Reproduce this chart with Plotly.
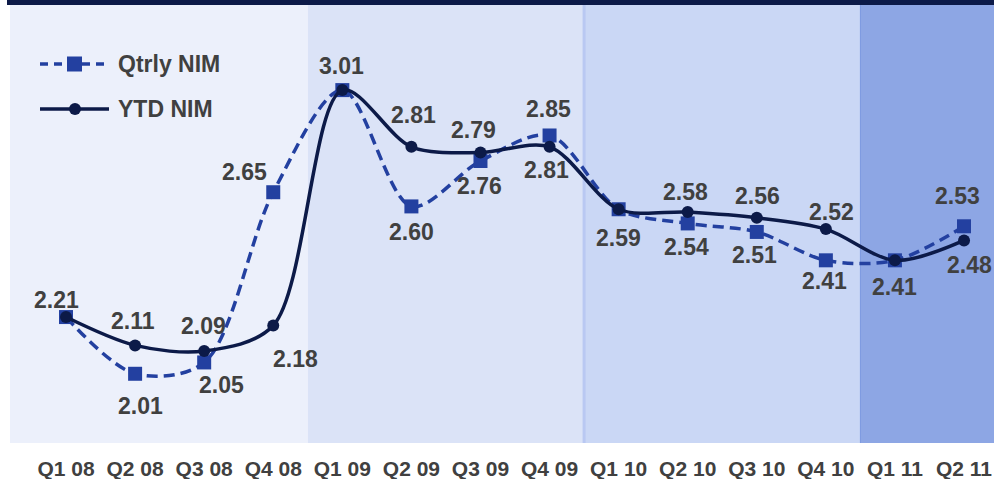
import plotly.graph_objects as go

# Quarterly and year-to-date net interest margin (%)
quarters = ["Q1 08", "Q2 08", "Q3 08", "Q4 08", "Q1 09", "Q2 09", "Q3 09",
            "Q4 09", "Q1 10", "Q2 10", "Q3 10", "Q4 10", "Q1 11", "Q2 11"]
qtrly_nim = [2.21, 2.01, 2.05, 2.65, 3.01, 2.60, 2.76, 2.85, 2.59, 2.54, 2.51, 2.41, 2.41, 2.53]
ytd_nim = [2.21, 2.11, 2.09, 2.18, 3.01, 2.81, 2.79, 2.81, 2.59, 2.58, 2.56, 2.52, 2.41, 2.48]

# Label offsets in px (dx, dy; dy positive = up). None = label shared with the other series.
qtrly_label_offsets = [(-10, 17), (5, -32), (17, -23), (-29, 20), (-1, 24), (0, -26), (-1, -25),
                       (-1, 26), (0, -29), (-1, -24), (-2, -23), (-1, -21), (0, -27), (-7, 30)]
ytd_label_offsets = [None, (-2, 24), (-1, 25), (22, -33), None, (2, 32), (-7, 23),
                     (-3, -23), None, (-2, 20), (1, 22), (6, 17), None, (5, -25)]

# Shaded year bands: (first index, last index, fill colour)
year_bands = [(0, 3, "#ecf0fb"), (4, 7, "#dbe3f7"), (8, 11, "#cad7f5"), (12, 13, "#8da6e4")]

QTRLY_COLOR = "#2340a0"
YTD_COLOR = "#0c1a48"
TEXT_COLOR = "#404040"
FONT = "Liberation Sans"

W, H = 994, 479
ML, MR, MT, MB = 10, 0, 5, 36
X_RANGE = [-0.811, 13.434]
Y_RANGE = [1.766, 3.31]


def px_to_paper(px, py):
    return (px - ML) / (W - ML - MR), (H - MB - py) / (H - MT - MB)


idx = list(range(len(quarters)))
fig = go.Figure()

fig.add_trace(go.Scatter(
    x=idx, y=qtrly_nim, name="Qtrly NIM", mode="lines+markers",
    line=dict(color=QTRLY_COLOR, width=3.5, dash="11px,6px", shape="spline", smoothing=0.9),
    marker=dict(symbol="square", size=14, color=QTRLY_COLOR),
    hoverinfo="skip",
))
fig.add_trace(go.Scatter(
    x=idx, y=ytd_nim, name="YTD NIM", mode="lines+markers",
    line=dict(color=YTD_COLOR, width=3.5, shape="spline", smoothing=0.9),
    marker=dict(symbol="circle", size=12, color=YTD_COLOR),
    hoverinfo="skip",
))

shapes = []
for i0, i1, col in year_bands:
    x0 = X_RANGE[0] if i0 == 0 else i0 - 0.5
    x1 = X_RANGE[1] if i1 == len(quarters) - 1 else i1 + 0.5
    shapes.append(dict(type="rect", xref="x", yref="paper", x0=x0, x1=x1, y0=0, y1=1,
                       fillcolor=col, line=dict(width=0), layer="below"))
# band separators
shapes.append(dict(type="line", xref="x", yref="paper", x0=7.5, x1=7.5, y0=0, y1=1,
                   line=dict(color="#b9c8f2", width=3), layer="below"))
shapes.append(dict(type="line", xref="x", yref="paper", x0=11.5, x1=11.5, y0=0, y1=1,
                   line=dict(color="#7a97e0", width=1), layer="below"))
# header bar
bx0, _ = px_to_paper(7, 0)
_, by0 = px_to_paper(0, 5)
shapes.append(dict(type="rect", xref="paper", yref="paper", x0=bx0, x1=1, y0=by0, y1=by0 + 10 / 438,
                   fillcolor=YTD_COLOR, line=dict(width=0)))

# legend drawn by hand
lx0, ly_q = px_to_paper(40, 64)
lx1, ly_y = px_to_paper(109, 109)
shapes.append(dict(type="line", xref="paper", yref="paper", x0=lx0, x1=lx1, y0=ly_q, y1=ly_q,
                   line=dict(color=QTRLY_COLOR, width=3.5, dash="8px,6px")))
sx0, sy0 = px_to_paper(67, 71.5)
sx1, sy1 = px_to_paper(82, 56.5)
shapes.append(dict(type="rect", xref="paper", yref="paper", x0=sx0, x1=sx1, y0=sy0, y1=sy1,
                   fillcolor=QTRLY_COLOR, line=dict(width=0)))
shapes.append(dict(type="line", xref="paper", yref="paper", x0=lx0, x1=lx1, y0=ly_y, y1=ly_y,
                   line=dict(color=YTD_COLOR, width=3.5)))
cx0, cy0 = px_to_paper(69, 115)
cx1, cy1 = px_to_paper(81, 103)
shapes.append(dict(type="circle", xref="paper", yref="paper", x0=cx0, x1=cx1, y0=cy0, y1=cy1,
                   fillcolor=YTD_COLOR, line=dict(width=0)))

annotations = []
tx, _ = px_to_paper(116, 0)
for name, ly in (("Qtrly NIM", ly_q), ("YTD NIM", ly_y)):
    annotations.append(dict(xref="paper", yref="paper", x=tx, y=ly, text=name, showarrow=False,
                            xanchor="left", yanchor="middle",
                            font=dict(family=FONT, size=23, color=TEXT_COLOR, weight="bold")))

for values, offsets in ((qtrly_nim, qtrly_label_offsets), (ytd_nim, ytd_label_offsets)):
    for i, (v, off) in enumerate(zip(values, offsets)):
        if off is None:
            continue
        annotations.append(dict(x=i, y=v, text=f"{v:.2f}", showarrow=False,
                                xanchor="center", yanchor="middle",
                                xshift=off[0], yshift=off[1],
                                font=dict(family=FONT, size=23, color=TEXT_COLOR, weight="bold")))

fig.update_layout(
    width=W, height=H,
    margin=dict(l=ML, r=MR, t=MT, b=MB),
    paper_bgcolor="white", plot_bgcolor="white",
    showlegend=False,
    shapes=shapes, annotations=annotations,
    xaxis=dict(range=X_RANGE, tickvals=idx, ticktext=quarters, showgrid=False, zeroline=False,
               showline=False, ticks="", ticklabelstandoff=11,
               tickfont=dict(family=FONT, size=21, color=TEXT_COLOR, weight="bold")),
    yaxis=dict(range=Y_RANGE, visible=False, showgrid=False, zeroline=False),
    hovermode=False,
)

fig.write_html("out.html", config={"displayModeBar": False})
